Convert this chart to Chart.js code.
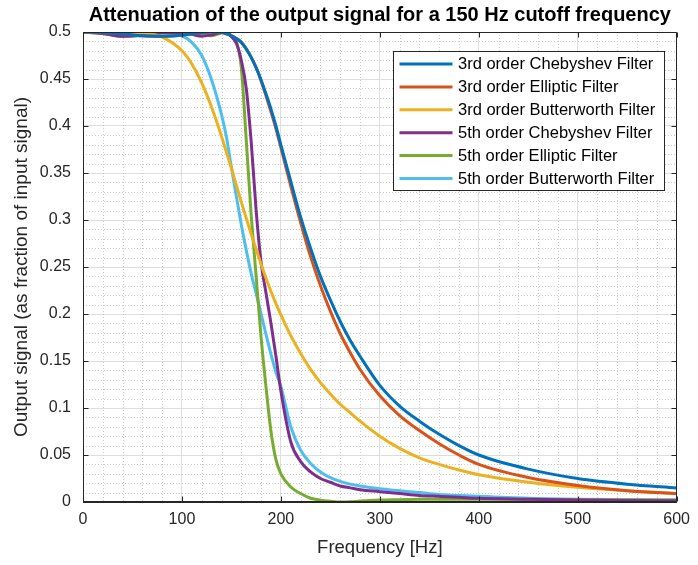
<!DOCTYPE html>
<html>
<head>
<meta charset="utf-8">
<script src="https://cdn.jsdelivr.net/npm/chart.js@4.4.0/dist/chart.umd.min.js"></script>
<style>
  html, body { margin: 0; padding: 0; background: #fff; }
</style>
</head>
<body>
<canvas id="chart" width="698" height="565"></canvas>
<script>
// frequency axis (Hz), shared by all six curves
const freq = [0, 20, 40, 60, 80, 100, 110, 120, 130, 140, 145, 150, 155, 160, 165, 170, 175, 180, 185, 190,
  195, 200, 210, 220, 230, 240, 250, 260, 270, 280, 300, 320, 340, 360, 380, 400, 450, 500, 550, 600];

// output signal
const cheb3 = [0.5, 0.4995, 0.498, 0.496, 0.4955, 0.4965, 0.498, 0.4995, 0.5, 0.4995, 0.498, 0.496, 0.493, 0.489, 0.482, 0.473, 0.462, 0.449, 0.434, 0.418,
  0.4, 0.38, 0.341, 0.303, 0.27, 0.24, 0.215, 0.192, 0.172, 0.155, 0.124, 0.102, 0.086, 0.072, 0.06, 0.05, 0.035, 0.025, 0.019, 0.015];
const ellip3 = [0.5, 0.4995, 0.498, 0.496, 0.4955, 0.4965, 0.498, 0.4995, 0.5, 0.4995, 0.498, 0.496, 0.493, 0.489, 0.482, 0.473, 0.462, 0.448, 0.432, 0.415,
  0.397, 0.377, 0.336, 0.297, 0.261, 0.23, 0.203, 0.179, 0.159, 0.141, 0.113, 0.092, 0.076, 0.062, 0.05, 0.04, 0.026, 0.0175, 0.012, 0.009];
const butter3 = [0.5, 0.5, 0.5, 0.499, 0.4945, 0.48, 0.466, 0.446, 0.42, 0.389, 0.372, 0.355, 0.337, 0.319, 0.302, 0.285, 0.269, 0.253, 0.238, 0.224,
  0.211, 0.199, 0.177, 0.158, 0.141, 0.127, 0.115, 0.104, 0.095, 0.086, 0.07, 0.057, 0.047, 0.04, 0.034, 0.029, 0.021, 0.0157, 0.012, 0.009];
const cheb5 = [0.5, 0.4985, 0.4955, 0.4965, 0.4995, 0.499, 0.4975, 0.4955, 0.497, 0.4995, 0.4995, 0.495, 0.488, 0.47, 0.44, 0.383, 0.31, 0.255, 0.222, 0.19,
  0.155, 0.118, 0.064, 0.043, 0.032, 0.025, 0.021, 0.017, 0.015, 0.013, 0.011, 0.009, 0.007, 0.006, 0.005, 0.004, 0.003, 0.002, 0.0015, 0.0012];
const ellip5 = [0.5, 0.4985, 0.4955, 0.4965, 0.499, 0.4995, 0.4985, 0.4965, 0.496, 0.499, 0.5, 0.496, 0.49, 0.462, 0.385, 0.305, 0.24, 0.175, 0.122, 0.075,
  0.045, 0.03, 0.016, 0.009, 0.004, 0.002, 0.0008, 0, 0.0002, 0.001, 0.002, 0.0025, 0.003, 0.003, 0.003, 0.003, 0.0028, 0.0025, 0.0023, 0.002];
const butter5 = [0.5, 0.5, 0.5, 0.5, 0.4995, 0.496, 0.489, 0.475, 0.449, 0.412, 0.388, 0.356, 0.325, 0.295, 0.268, 0.243, 0.222, 0.2, 0.178, 0.157,
  0.138, 0.123, 0.08, 0.055, 0.041, 0.032, 0.026, 0.022, 0.019, 0.017, 0.014, 0.012, 0.01, 0.008, 0.007, 0.006, 0.004, 0.003, 0.0025, 0.002];

const seriesNames = [
  "3rd order Chebyshev Filter", "3rd order Elliptic Filter", "3rd order Butterworth Filter",
  "5th order Chebyshev Filter", "5th order Elliptic Filter", "5th order Butterworth Filter"
];
const seriesValues = [cheb3, ellip3, butter3, cheb5, ellip5, butter5];
const seriesColors = ["#0072BD", "#D95319", "#EDB120", "#7E2F8E", "#77AC30", "#4DBEEE"];

const FONT = "'Liberation Sans', Arial, Helvetica, sans-serif";
const INK = "#262626";

// dotted minor grid (every 20 Hz / 0.01)
const minorGrid = {
  id: "minorGrid",
  beforeDatasetsDraw(chart) {
    const { ctx, chartArea: a, scales: { x, y } } = chart;
    ctx.save();
    ctx.strokeStyle = "#cccccc";
    ctx.lineWidth = 1;
    ctx.setLineDash([1, 2]);
    ctx.beginPath();
    for (let f = 20; f < 600; f += 20) {
      if (f % 100 === 0) continue;
      const px = Math.round(x.getPixelForValue(f)) + 0.5;
      ctx.moveTo(px, a.top); ctx.lineTo(px, a.bottom);
    }
    for (let k = 1; k < 50; k++) {
      if (k % 5 === 0) continue;
      const py = Math.round(y.getPixelForValue(k / 100)) + 0.5;
      ctx.moveTo(a.left, py); ctx.lineTo(a.right, py);
    }
    ctx.stroke();
    ctx.restore();
  }
};

// box around the axes with inward ticks
const frame = {
  id: "frame",
  afterDatasetsDraw(chart) {
    const { ctx, chartArea: a, scales: { x, y } } = chart;
    const L = Math.round(a.left) + 0.5, R = Math.round(a.right) - 0.5;
    const T = Math.round(a.top) + 0.5, B = Math.round(a.bottom) - 0.5;
    ctx.save();
    ctx.strokeStyle = INK;
    ctx.lineWidth = 1;
    ctx.beginPath();
    ctx.rect(L, T, R - L, B - T);
    const tl = 5;
    x.ticks.forEach(t => {
      const px = Math.round(x.getPixelForValue(t.value)) + 0.5;
      ctx.moveTo(px, B); ctx.lineTo(px, B - tl);
      ctx.moveTo(px, T); ctx.lineTo(px, T + tl);
    });
    y.ticks.forEach(t => {
      const py = Math.round(y.getPixelForValue(t.value)) + 0.5;
      ctx.moveTo(L, py); ctx.lineTo(L + tl, py);
      ctx.moveTo(R, py); ctx.lineTo(R - tl, py);
    });
    ctx.stroke();
    ctx.restore();
  }
};

// legend box inside the axes, top right
const legendBox = {
  id: "legendBox",
  afterDraw(chart) {
    const { ctx } = chart;
    const box = { left: 393.5, top: 51.5, w: 271, h: 139 };
    ctx.save();
    ctx.fillStyle = "#fff";
    ctx.fillRect(box.left, box.top, box.w, box.h);
    ctx.strokeStyle = INK;
    ctx.lineWidth = 1;
    ctx.strokeRect(box.left, box.top, box.w, box.h);
    ctx.font = "16.5px " + FONT;
    ctx.textBaseline = "middle";
    chart.data.datasets.forEach((ds, i) => {
      const cy = box.top + 12.5 + i * 22.9;
      ctx.strokeStyle = ds.borderColor;
      ctx.lineWidth = 3;
      ctx.beginPath();
      ctx.moveTo(box.left + 6, cy); ctx.lineTo(box.left + 59, cy);
      ctx.stroke();
      ctx.fillStyle = "#000";
      ctx.fillText(ds.label, box.left + 64.5, cy + 0.5);
    });
    ctx.restore();
  }
};

new Chart(document.getElementById("chart"), {
  type: "line",
  data: {
    datasets: seriesNames.map((name, i) => ({
      label: name,
      data: freq.map((f, j) => ({ x: f, y: seriesValues[i][j] })),
      borderColor: seriesColors[i],
      backgroundColor: seriesColors[i],
      borderWidth: 3,
      pointRadius: 0,
      cubicInterpolationMode: "monotone",
      fill: false
    }))
  },
  options: {
    responsive: false,
    animation: false,
    devicePixelRatio: 1,
    layout: { padding: { left: 0, right: 20, top: 0, bottom: 0 } },
    plugins: {
      legend: { display: false },
      tooltip: { enabled: false },
      title: {
        display: true,
        fullSize: false,
        text: "Attenuation of the output signal for a 150 Hz cutoff frequency",
        color: "#000",
        font: { family: FONT, size: 20, weight: "bold" },
        padding: { top: 3, bottom: 5 }
      }
    },
    scales: {
      x: {
        type: "linear",
        min: 0, max: 600,
        afterFit: s => { s.height = 63; },
        ticks: {
          stepSize: 100,
          color: INK,
          padding: 8,
          maxRotation: 0,
          font: { family: FONT, size: 16 }
        },
        grid: { color: "#dedede", drawTicks: false },
        border: { color: INK },
        title: {
          display: true,
          text: "Frequency [Hz]",
          color: INK,
          font: { family: FONT, size: 18.5 },
          padding: { top: 4, bottom: 6 }
        }
      },
      y: {
        min: 0, max: 0.5,
        afterFit: s => { s.width = 83; },
        ticks: {
          stepSize: 0.05,
          color: INK,
          padding: 12,
          font: { family: FONT, size: 16 },
          callback: v => String(+v.toFixed(2))
        },
        grid: { color: "#dedede", drawTicks: false },
        border: { color: INK },
        title: {
          display: true,
          text: "Output signal (as fraction of input signal)",
          color: INK,
          font: { family: FONT, size: 19 },
          padding: { top: 10, bottom: 0 }
        }
      }
    }
  },
  plugins: [minorGrid, frame, legendBox]
});
</script>
</body>
</html>
